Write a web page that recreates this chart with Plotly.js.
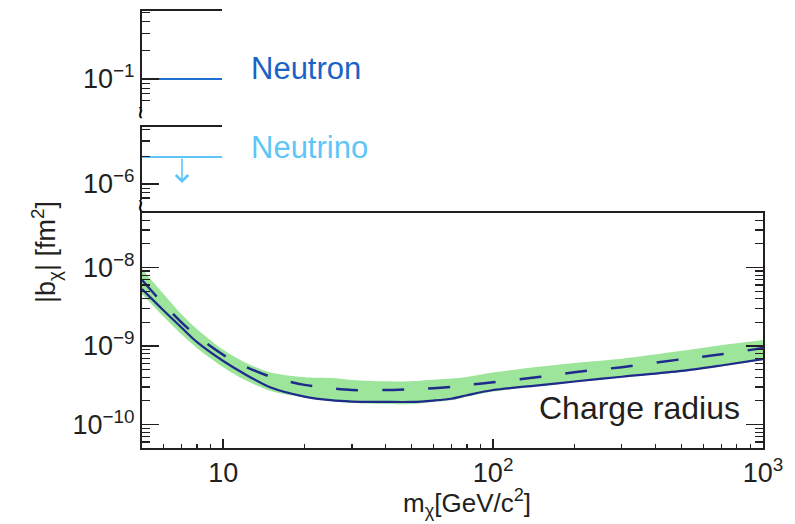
<!DOCTYPE html>
<html>
<head>
<meta charset="utf-8">
<script src="https://cdn.plot.ly/plotly-3.0.1.min.js"></script>
<style>html,body{margin:0;padding:0;background:#fff;}#chart{width:795px;height:524px;}</style>
</head>
<body>
<div id="chart"></div>
<script>
// ---- data ----
const mass = [5,6,7,8,10,12,15,20,25,30,40,50,60,70,80,100,150,200,300,500,700,1000];
const limitSolid = [5.3e-9,2.85e-9,1.72e-9,1.12e-9,6.44e-10,4.4e-10,2.96e-10,2.27e-10,2.04e-10,1.96e-10,1.94e-10,1.94e-10,2.02e-10,2.13e-10,2.36e-10,2.75e-10,3.18e-10,3.53e-10,4.06e-10,4.81e-10,5.65e-10,6.82e-10];
const limitDashed = [6.94e-9,3.43e-9,2.0e-9,1.33e-9,7.71e-10,5.53e-10,4.06e-10,3.2e-10,2.9e-10,2.75e-10,2.75e-10,2.82e-10,2.89e-10,3.02e-10,3.18e-10,3.46e-10,4.05e-10,4.63e-10,5.38e-10,6.79e-10,7.83e-10,9.44e-10];
const bandUpper = [9.6e-9,4.63e-9,2.54e-9,1.64e-9,8.95e-10,6.22e-10,4.59e-10,3.99e-10,3.9e-10,3.7e-10,3.55e-10,3.57e-10,3.72e-10,3.85e-10,4.03e-10,4.59e-10,5.48e-10,6.09e-10,6.89e-10,8.67e-10,1.02e-9,1.19e-9];
const bandLower = [4.59e-9,2.37e-9,1.41e-9,9.39e-10,5.37e-10,3.71e-10,2.67e-10,2.21e-10,2.0e-10,1.88e-10,1.82e-10,1.82e-10,1.94e-10,2.04e-10,2.26e-10,2.63e-10,3.09e-10,3.43e-10,3.97e-10,4.67e-10,5.48e-10,6.63e-10];
const neutronValue = 0.1;
const neutrinoValue = 2e-6;
const refSpan = [0, 1];

const xTickVals = [10, 100, 1000];
const xTickText = ['10', '10<sup>2</sup>', '10<sup>3</sup>'];
const xMinorVals = [6,7,8,9,20,30,40,50,60,70,80,90,200,300,400,500,600,700,800,900];
const yTickVals = [1e-10, 1e-9, 1e-8];
const yTickText = ['10<sup>−10</sup>', '10<sup>−9</sup>', '10<sup>−8</sup>'];
const yMinorVals = [6e-11,7e-11,8e-11,9e-11,2e-10,3e-10,4e-10,5e-10,6e-10,7e-10,8e-10,9e-10,2e-9,3e-9,4e-9,5e-9,6e-9,7e-9,8e-9,9e-9,2e-8,3e-8,4e-8];
const y2TickVals = [0.1];
const y2TickText = ['10<sup>−1</sup>'];
const y2MinorVals = [0.06,0.07,0.08,0.09,0.2,0.3,0.4,0.5];
const y3TickVals = [1e-6];
const y3TickText = ['10<sup>−6</sup>'];
const y3MinorVals = [7e-7,8e-7,9e-7,2e-6,3e-6,4e-6];

// ---- styles ----
const ink = '#231f20';
const navy = '#1f2a8c';
const font = 'Liberation Sans, Arial, Helvetica, sans-serif';

const traces = [
  {x: mass, y: bandLower, type: 'scatter', mode: 'lines', line: {width: 0, color: 'rgba(0,0,0,0)', shape: 'spline', smoothing: 0.8}, xaxis: 'x', yaxis: 'y', hoverinfo: 'skip'},
  {x: mass, y: bandUpper, type: 'scatter', mode: 'lines', fill: 'tonexty', fillcolor: '#9de59b', line: {width: 0, color: 'rgba(0,0,0,0)', shape: 'spline', smoothing: 0.8}, xaxis: 'x', yaxis: 'y'},
  {x: mass, y: limitSolid, type: 'scatter', mode: 'lines', line: {color: navy, width: 2.2, shape: 'spline', smoothing: 0.8}, xaxis: 'x', yaxis: 'y'},
  {x: mass, y: limitDashed, type: 'scatter', mode: 'lines', line: {color: navy, width: 2.5, dash: '22px,24px', shape: 'spline', smoothing: 0.8}, xaxis: 'x', yaxis: 'y'},
  {x: refSpan, y: [neutronValue, neutronValue], type: 'scatter', mode: 'lines', line: {color: '#1d6fd0', width: 2}, xaxis: 'x2', yaxis: 'y2'},
  {x: refSpan, y: [neutrinoValue, neutrinoValue], type: 'scatter', mode: 'lines', line: {color: '#5ec6f6', width: 2}, xaxis: 'x3', yaxis: 'y3'}
];

const panelW = (222 - 142) / 621;
const axisCommon = {
  showgrid: false, zeroline: false, linecolor: ink, linewidth: 2,
  tickcolor: ink, tickwidth: 1.5, tickfont: {family: font, size: 27, color: ink}
};

const layout = {
  width: 795, height: 524,
  margin: {l: 142, r: 32, t: 11, b: 76},
  paper_bgcolor: '#fff', plot_bgcolor: 'rgba(0,0,0,0)',
  showlegend: false,
  font: {family: font, color: ink},
  xaxis: Object.assign({}, axisCommon, {
    type: 'log', range: [Math.log10(5), 3], domain: [0, 1], anchor: 'y',
    showline: true, mirror: true, ticks: 'inside', ticklen: 9,
    tickmode: 'array', tickvals: xTickVals, ticktext: xTickText,
    minor: {tickmode: 'array', tickvals: xMinorVals, ticks: 'inside', ticklen: 4, tickcolor: ink, tickwidth: 1.2}
  }),
  yaxis: Object.assign({}, axisCommon, {
    type: 'log', range: [-10.299, -7.306], domain: [0, (448 - 213) / 437], anchor: 'x',
    showline: true, mirror: 'ticks', ticks: 'inside', ticklen: 17,
    tickmode: 'array', tickvals: yTickVals, ticktext: yTickText,
    minor: {tickmode: 'array', tickvals: yMinorVals, ticks: 'inside', ticklen: 8, tickcolor: ink, tickwidth: 1.2}
  }),
  xaxis2: Object.assign({}, axisCommon, {
    range: [0, 1], domain: [0, panelW], anchor: 'y2', side: 'top',
    showline: true, ticks: '', showticklabels: false
  }),
  yaxis2: Object.assign({}, axisCommon, {
    type: 'log', range: [-1.305, -0.284], domain: [(448 - 108) / 437, 1], anchor: 'x2',
    showline: true, ticks: 'inside', ticklen: 17,
    tickmode: 'array', tickvals: y2TickVals, ticktext: y2TickText,
    minor: {tickmode: 'array', tickvals: y2MinorVals, ticks: 'inside', ticklen: 8, tickcolor: ink, tickwidth: 1.2}
  }),
  xaxis3: Object.assign({}, axisCommon, {
    range: [0, 1], domain: [0, panelW], anchor: 'y3', side: 'top',
    showline: true, ticks: '', showticklabels: false
  }),
  yaxis3: Object.assign({}, axisCommon, {
    type: 'log', range: [-6.178, -5.367], domain: [(448 - 200) / 437, (448 - 127) / 437], anchor: 'x3',
    showline: true, ticks: 'inside', ticklen: 17,
    tickmode: 'array', tickvals: y3TickVals, ticktext: y3TickText,
    minor: {tickmode: 'array', tickvals: y3MinorVals, ticks: 'inside', ticklen: 8, tickcolor: ink, tickwidth: 1.2}
  }),
  annotations: [
    {text: 'Neutron', xref: 'paper', yref: 'paper', x: (249 - 142) / 621, y: (448 - 68) / 437, xanchor: 'left', yanchor: 'middle', showarrow: false, font: {family: font, size: 31, color: '#1a63c6'}},
    {text: 'Neutrino', xref: 'paper', yref: 'paper', x: (249 - 142) / 621, y: (448 - 147) / 437, xanchor: 'left', yanchor: 'middle', showarrow: false, font: {family: font, size: 31, color: '#5ec6f6'}},
    {text: 'Charge radius', xref: 'paper', yref: 'paper', x: (742 - 142) / 621, y: (448 - 408) / 437, xanchor: 'right', yanchor: 'middle', showarrow: false, font: {family: font, size: 32, color: ink}},
    {text: 'm<sub>χ</sub>[GeV/c<sup>2</sup>]', xref: 'paper', yref: 'paper', x: (467 - 142) / 621, y: (448 - 503) / 437, xanchor: 'center', yanchor: 'middle', showarrow: false, font: {family: font, size: 26, color: ink}},
    {text: '|b<sub>χ</sub>| [fm<sup>2</sup>]', textangle: -90, xref: 'paper', yref: 'paper', x: (46 - 142) / 621, y: (448 - 252) / 437, xanchor: 'center', yanchor: 'middle', showarrow: false, font: {family: font, size: 27, color: ink}},
    {text: '', xref: 'x3', yref: 'y3', x: 0.5, y: Math.log10(1e-6) + 0.01, ax: 0, ay: -26, axref: 'pixel', ayref: 'pixel', showarrow: true, arrowhead: 4, arrowsize: 1.5, arrowwidth: 1.6, arrowcolor: '#5ec6f6'},
    {text: '<b>~</b>', textangle: 90, xref: 'paper', yref: 'paper', x: 0, y: (448 - 112) / 437, xanchor: 'center', yanchor: 'middle', showarrow: false, font: {family: 'DejaVu Sans', size: 18, color: '#000'}},
    {text: '<b>~</b>', textangle: 90, xref: 'paper', yref: 'paper', x: 0, y: (448 - 205) / 437, xanchor: 'center', yanchor: 'middle', showarrow: false, font: {family: 'DejaVu Sans', size: 18, color: '#000'}}
  ]
};

Plotly.newPlot('chart', traces, layout, {displayModeBar: false, staticPlot: true});
</script>
</body>
</html>
